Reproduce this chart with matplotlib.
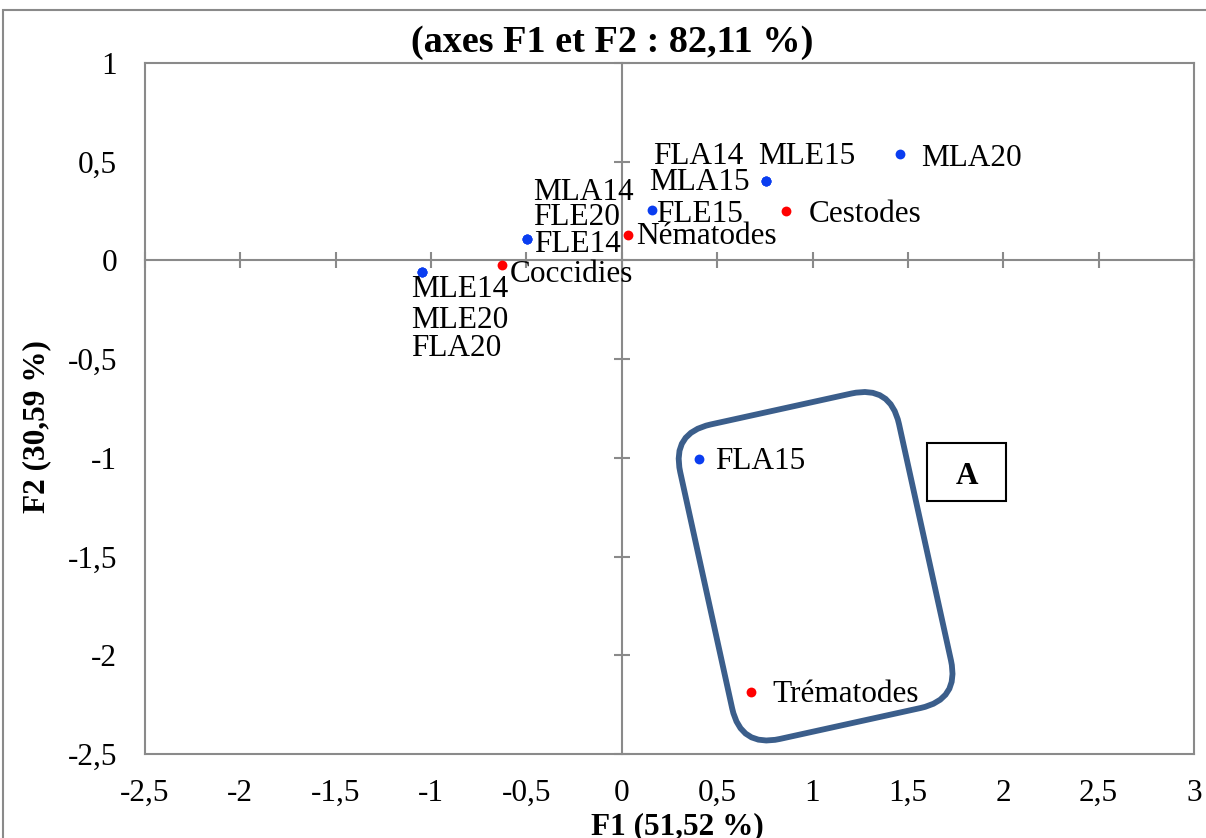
import matplotlib
matplotlib.use('Agg')
import matplotlib.pyplot as plt
from matplotlib.patches import FancyBboxPatch, Rectangle
from matplotlib.transforms import Affine2D, ScaledTranslation
from matplotlib.ticker import FuncFormatter, NullFormatter

# groups (individus) - several sit on the same coordinates
grp_names = ['MLA20', 'MLA15', 'FLA14', 'MLE15', 'FLE15', 'FLE14', 'FLE20', 'MLA14',
             'MLE14', 'MLE20', 'FLA20', 'FLA15']
grp_x = [1.457, 0.758, 0.758, 0.758, 0.156, -0.496, -0.496, -0.496,
         -1.050, -1.050, -1.050, 0.404]
grp_y = [0.539, 0.404, 0.404, 0.404, 0.255, 0.108, 0.108, 0.108,
         -0.057, -0.057, -0.057, -1.006]

# parasites (variables)
par_names = ['Cestodes', 'Nématodes', 'Coccidies', 'Trématodes']
par_x = [0.863, 0.033, -0.627, 0.676]
par_y = [0.250, 0.127, -0.023, -2.188]

xticks = [-2.5, -2, -1.5, -1, -0.5, 0, 0.5, 1, 1.5, 2, 2.5, 3]
yticks = [-2.5, -2, -1.5, -1, -0.5, 0, 0.5, 1]

title = '(axes F1 et F2 : 82,11 %)'
xlabel = 'F1 (51,52 %)'
ylabel = 'F2 (30,59 %)'

# label placement, offsets in pixels (dx right, dy up to baseline)
label_pos = {
    'MLA20': (21, -12, 'left'), 'MLA15': (-17, -9, 'right'),
    'FLA14': (-113, 17, 'left'), 'MLE15': (-8, 17, 'left'),
    'FLE15': (5, -12, 'left'), 'FLE14': (7, -13, 'left'),
    'FLE20': (6, 14, 'left'), 'MLA14': (6, 39, 'left'),
    'MLE14': (-10, -25, 'left'), 'MLE20': (-10, -56, 'left'),
    'FLA20': (-10, -84, 'left'), 'FLA15': (16, -10, 'left'),
    'Cestodes': (22, -11, 'left'), 'Nématodes': (8, -9, 'left'),
    'Coccidies': (8, -17, 'left'), 'Trématodes': (22, -10, 'left'),
}

plt.rcParams['font.family'] = ['Liberation Serif', 'DejaVu Serif']
gray = '#8A8A8A'
fs = 22.5

fig = plt.figure(figsize=(12.06, 8.38), dpi=100)
ax = fig.add_axes([145 / 1206, 1 - 754 / 838, 1049 / 1206, 691 / 838])
ax.set_xlim(-2.5, 3)
ax.set_ylim(-2.5, 1)

fmt = FuncFormatter(lambda v, p: f'{v:g}'.replace('.', ','))
ax.set_xticks(xticks)
ax.set_yticks(yticks)
ax.xaxis.set_major_formatter(fmt)
ax.yaxis.set_major_formatter(fmt)
ax.tick_params(length=0, labelsize=fs, pad=20)
ax.tick_params(axis='x', pad=18)
for s in ax.spines.values():
    s.set_color(gray)
    s.set_linewidth(1.5)

# axes crossing at zero, with their tick marks
secx = ax.secondary_xaxis((0 - ax.get_ylim()[0]) / (ax.get_ylim()[1] - ax.get_ylim()[0]))
secx.set_xticks(xticks)
secx.xaxis.set_major_formatter(NullFormatter())
secx.tick_params(direction='inout', length=12, width=1.5, color=gray)
secy = ax.secondary_yaxis((0 - ax.get_xlim()[0]) / (ax.get_xlim()[1] - ax.get_xlim()[0]))
secy.set_yticks(yticks)
secy.yaxis.set_major_formatter(NullFormatter())
secy.tick_params(direction='inout', length=12, width=1.5, color=gray)
for sec in (secx, secy):
    for s in sec.spines.values():
        s.set_color(gray)
        s.set_linewidth(1.5)

ax.scatter(grp_x, grp_y, s=50, color='#0A3DF0', zorder=3, linewidths=0)
ax.scatter(par_x, par_y, s=50, color='#FF0000', zorder=3, linewidths=0)

for names, xs, ys in ((grp_names, grp_x, grp_y), (par_names, par_x, par_y)):
    for n, x, y in zip(names, xs, ys):
        dx, dy, ha = label_pos[n]
        ax.annotate(n, (x, y), xytext=(dx, dy), textcoords='offset pixels',
                    ha=ha, va='baseline', fontsize=fs, zorder=4)

# rotated rounded box around group A
box = FancyBboxPatch((-1.12, -1.61), 2.24, 3.22,
                     boxstyle='round,pad=0,rounding_size=0.4',
                     fill=False, edgecolor='#3B5E8B', linewidth=4.2,
                     transform=Affine2D().rotate_deg(12.4) + fig.dpi_scale_trans
                     + ScaledTranslation(1.016, -1.549, ax.transData),
                     zorder=2)
ax.add_artist(box)

# "A" tag
tag = Rectangle((-0.395, -0.29), 0.79, 0.58, fill=False, edgecolor='black',
                linewidth=1.5,
                transform=fig.dpi_scale_trans + ScaledTranslation(1.809, -1.070, ax.transData))
ax.add_artist(tag)
ax.annotate('A', (1.809, -1.070), xytext=(0, -12), textcoords='offset pixels',
            ha='center', va='baseline', fontsize=fs, fontweight='bold')

fig.text(612 / 1206, 1 - 42 / 838, title, ha='center', va='center',
         fontsize=27.5, fontweight='bold')
fig.text(677 / 1206, 1 - 834 / 838, xlabel, ha='center', va='baseline',
         fontsize=fs, fontweight='bold')
fig.text(37 / 1206, 1 - 427 / 838, ylabel, ha='center', va='center',
         rotation=90, fontsize=fs, fontweight='bold')

# chart-area border (continues past the right and bottom edges)
fig.add_artist(Rectangle((3 / 1206, -0.1), 1.2, 1.1 - 10 / 838, fill=False,
                         edgecolor=gray, linewidth=1.5, transform=fig.transFigure))

fig.savefig('out.png', dpi=100)
